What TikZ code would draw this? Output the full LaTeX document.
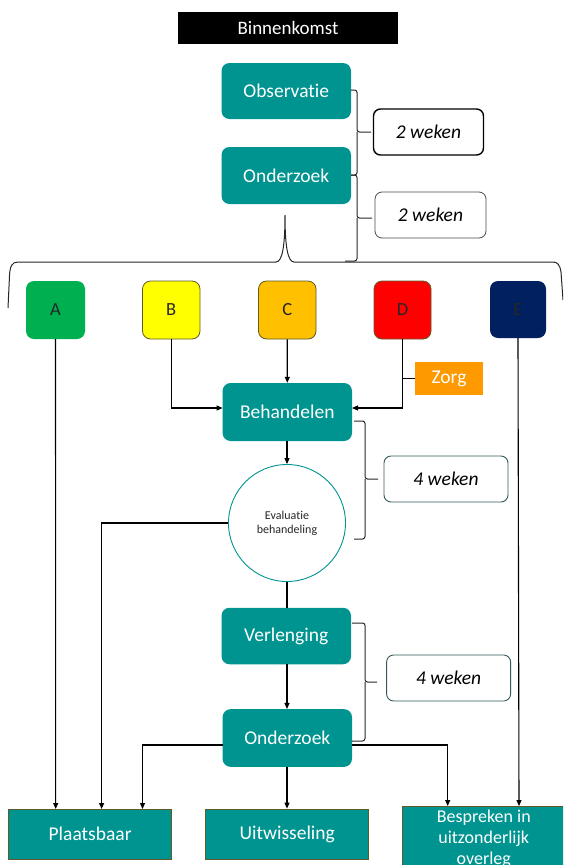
\documentclass[tikz,border=0pt]{standalone}
\usepackage{fontspec}
\setmainfont[Ligatures={NoCommon}]{Carlito}
\usetikzlibrary{arrows.meta}
\definecolor{teal1}{RGB}{0,148,144}
\definecolor{olivb}{RGB}{95,90,40}
\definecolor{gA}{RGB}{0,176,80}
\definecolor{yB}{RGB}{255,255,0}
\definecolor{oC}{RGB}{255,192,0}
\definecolor{rD}{RGB}{255,0,0}
\definecolor{nE}{RGB}{0,32,96}
\definecolor{orZ}{RGB}{255,153,0}
\definecolor{wkb}{RGB}{50,90,90}
\tikzset{
  tealbox/.style={draw=none,fill=teal1,rounded corners=8pt,text=white,font=\fontsize{19.5}{22}\selectfont,inner sep=0pt,align=center},
  sqbox/.style={draw=olivb,line width=0.8pt,fill=teal1,text=white,font=\fontsize{19.5}{22}\selectfont,inner sep=0pt,align=center},
  letterbox/.style={rounded corners=8pt,inner sep=0pt,text=black!85,font=\fontsize{18.5}{20}\selectfont},
  weekbox/.style={rounded corners=7pt,inner sep=0pt,font=\itshape\fontsize{19.5}{22}\selectfont,fill=white},
  arr/.style={line width=1.1pt,-{Triangle[length=6pt,width=5pt]}},
  con/.style={line width=1.1pt},
  brc/.style={line width=1pt,black!85,rounded corners=2.5pt},
}
\begin{document}
\begin{tikzpicture}[x=1pt,y=-1pt]
\useasboundingbox (0,0) rectangle (563,865);
\clip (0,0) rectangle (563,865);
% top
\node[fill=black,text=white,minimum width=220pt,minimum height=32pt,inner sep=0pt,font=\fontsize{19}{22}\selectfont] (bin) at (288,28) {Binnenkomst};
\node[tealbox,minimum width=129.5pt,minimum height=56pt] (obs) at (286.25,91) {Observatie};
\node[tealbox,minimum width=129.5pt,minimum height=57pt] (ond1) at (286.25,175.5) {Onderzoek};
\node[weekbox,draw=black,line width=1.4pt,minimum width=110pt,minimum height=46pt] (wk1) at (428.5,132) {2 weken};
\node[weekbox,draw=black!70,line width=0.8pt,minimum width=111pt,minimum height=46pt] (wk2) at (430.5,215) {2 weken};
% braces
\draw[brc] (351,90) -- (357,90) -- (357,132) -- (371,132);
\draw[brc] (351,175) -- (357,175) -- (357,132);
\draw[brc] (351,175) -- (357,175) -- (357,218) -- (372,218);
\draw[brc] (345,261) -- (357,261) -- (357,218);
% big brace
\draw[line width=1pt,black!85] (8,308) -- (9.5,276) .. controls (10,266) and (12,262) .. (18,262) -- (276,262) .. controls (282.5,262) and (285,245) .. (285,215) .. controls (285,245) and (287.5,262) .. (294,262) -- (553,262) .. controls (557.5,262) and (560,265) .. (561,272) -- (563,300);
% categories
\node[letterbox,fill=gA,minimum width=59pt,minimum height=58pt] (A) at (55.5,310) {A};
\node[letterbox,fill=yB,draw=olivb,line width=0.8pt,minimum width=57.5pt,minimum height=58pt] (B) at (171.25,310) {B};
\node[letterbox,fill=oC,draw=olivb,line width=0.8pt,minimum width=57.5pt,minimum height=58pt] (C) at (287.25,310) {C};
\node[letterbox,fill=rD,draw=olivb,line width=0.8pt,minimum width=57pt,minimum height=58pt] (D) at (402.5,310) {D};
\node[letterbox,fill=nE,minimum width=56pt,minimum height=57pt] (E) at (518,309.5) {E};
\node[fill=orZ,text=white,minimum width=68pt,minimum height=33pt,inner sep=0pt,font=\fontsize{19.5}{22}\selectfont] (zorg) at (449,378.5) {Zorg};
\node[tealbox,minimum width=129.4pt,minimum height=58pt] (beh) at (287.3,412) {Behandelen};
\node[circle,draw=teal1,line width=0.9pt,fill=white,minimum size=117pt,inner sep=0pt,align=center,font=\fontsize{12}{14}\selectfont,text=black!85] (eval) at (287,523) {Evaluatie\\behandeling};
\node[weekbox,draw=wkb,line width=0.9pt,minimum width=124pt,minimum height=46pt] (wk3) at (446,479) {4 weken};
\node[tealbox,minimum width=129.5pt,minimum height=56.5pt] (verl) at (286.25,636) {Verlenging};
\node[tealbox,minimum width=129.4pt,minimum height=57.7pt] (ond2) at (287.3,738) {Onderzoek};
\node[weekbox,draw=wkb,line width=0.9pt,minimum width=124pt,minimum height=46pt] (wk4) at (448.6,678) {4 weken};
\draw[brc] (354,421) -- (365,421) -- (365,479) -- (378,479);
\draw[brc] (354,539) -- (365,539) -- (365,479);
\draw[brc] (352,623) -- (365,623) -- (365,682) -- (377,682);
\draw[brc] (352,741) -- (365,741) -- (365,682);
% bottom
\node[sqbox,minimum width=163pt,minimum height=50pt] (plaats) at (90.1,834) {Plaatsbaar};
\node[sqbox,minimum width=163pt,minimum height=50pt] (uitw) at (287.25,834) {Uitwisseling};
\node[sqbox,minimum width=162.5pt,minimum height=64pt,font=\fontsize{18}{21}\selectfont] (besp) at (483.75,838.5) {Bespreken in\\uitzonderlijk\\overleg};
% coordinates
\coordinate (bl) at (222.6,408);
\coordinate (br) at (352,408);
\coordinate (pA) at (55.7,809);
\coordinate (pE) at (519,806);
\coordinate (pEv) at (101.6,809);
\coordinate (pO) at (142.5,809);
\coordinate (oW) at (222.6,745);
\coordinate (oE) at (352,745);
\coordinate (pB) at (447.7,806);
% connectors
\draw[arr] (A.south) -- (pA);
\draw[arr] (B.south) |- (bl);
\draw[arr] (C.south) -- (beh.north);
\draw[arr] (D.south) |- (br);
\draw[con] (zorg.west) -- (zorg.west -| D.south);
\draw[arr] (E.south) -- (pE);
\draw[arr] (beh.south -| eval.north) -- (eval.north);
\draw[arr] (eval.west) -| (pEv);
\draw[con] (eval.south) -- (eval.south |- verl.north);
\draw[arr] (verl.south -| eval.south) -- (eval.south |- ond2.north);
\draw[arr] (oW) -| (pO);
\draw[arr] (ond2.south -| eval.south) -- (eval.south |- uitw.north);
\draw[arr] (oE) -| (pB);
\end{tikzpicture}
\end{document}
